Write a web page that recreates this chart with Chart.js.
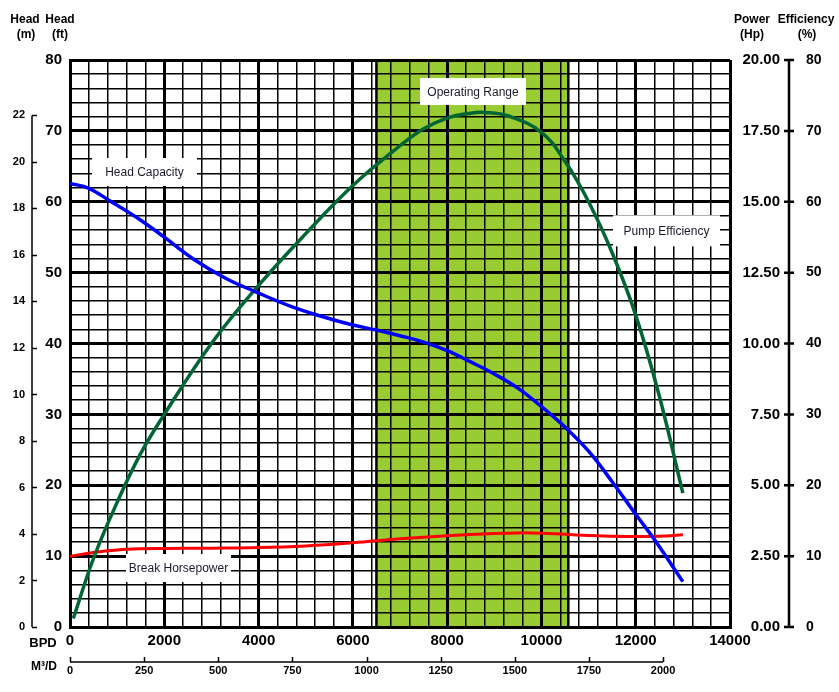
<!DOCTYPE html>
<html>
<head>
<meta charset="utf-8">
<script src="https://cdn.jsdelivr.net/npm/chart.js@4.4.1/dist/chart.umd.min.js"></script>
<style>
html,body{margin:0;padding:0;background:#fff;}
#wrap{width:839px;height:692px;position:relative;}
</style>
</head>
<body>
<div id="wrap"><canvas id="c" width="839" height="692"></canvas></div>
<script>
// ---- Data ----
// Head capacity curve: flow (BPD) vs head (ft)
const headBpd = [0, 400, 850, 1500, 2000, 2600, 3300, 3900, 4700, 5400, 6000, 6500, 7000, 7500, 8000, 8500, 9000, 9500, 10000, 10500, 11000, 11500, 12000, 12400, 13000];
const headFt  = [62.6, 61.9, 60.1, 57.4, 55.0, 52.0, 49.2, 47.4, 45.2, 43.7, 42.6, 41.9, 41.1, 40.2, 39.0, 37.4, 35.7, 33.7, 31.1, 28.2, 24.8, 20.5, 15.9, 12.3, 6.4];

// Pump efficiency curve: flow (BPD) vs efficiency (%)
const effBpd = [70, 500, 1000, 1500, 2000, 3000, 4000, 5000, 6000, 7000, 7500, 8000, 8500, 8800, 9300, 10000, 10500, 11000, 11500, 12000, 12500, 13000];
const effPct = [1.2, 9.7, 17.6, 24.5, 30.0, 40.0, 48.2, 55.5, 62.3, 67.9, 70.3, 71.8, 72.5, 72.6, 72.1, 69.8, 65.7, 60.0, 52.8, 44.0, 32.6, 18.9];

// Brake horsepower curve: flow (BPD) vs power (Hp)
const hpBpd = [0, 500, 1000, 1500, 2000, 3000, 4000, 5000, 6000, 7000, 8000, 9000, 9500, 10000, 10500, 11000, 11500, 12000, 12500, 13000];
const hpVal = [2.49, 2.63, 2.72, 2.76, 2.77, 2.78, 2.80, 2.86, 2.97, 3.11, 3.22, 3.30, 3.32, 3.31, 3.27, 3.23, 3.20, 3.19, 3.20, 3.25];

// Operating range (BPD)
const operatingRange = [6500, 10570];

// Axis ranges / tick labels
const bpdMax = 14000;
const ftMax = 80;
const hpMax = 20;
const effMax = 80;
const FT_PER_M = 3.28084;
const BBL_PER_M3 = 6.28981;
const meterTicks = [0, 2, 4, 6, 8, 10, 12, 14, 16, 18, 20, 22];
const m3dTicks = [0, 250, 500, 750, 1000, 1250, 1500, 1750, 2000];

// Curve annotations: text, BPD, ft, box width, box height
const curveLabels = [
  {text: 'Head Capacity',    bpd: 1580,  ft: 64.2, w: 105, h: 28},
  {text: 'Operating Range',  bpd: 8549,  ft: 75.55, w: 106, h: 27},
  {text: 'Pump Efficiency',  bpd: 12653, ft: 55.9, w: 107, h: 31},
  {text: 'Break Horsepower', bpd: 2302,  ft: 8.32, w: 105, h: 28}
];

Chart.defaults.font.family = "'Liberation Sans', Arial, sans-serif";
Chart.defaults.color = '#000';

const FONT = "'Liberation Sans', Arial, sans-serif";

const decor = {
  id: 'decor',
  beforeDraw(chart) {
    const {ctx, chartArea: a, scales: {x}} = chart;
    ctx.save();
    ctx.fillStyle = '#fff';
    ctx.fillRect(0, 0, chart.width, chart.height);
    const x0 = x.getPixelForValue(operatingRange[0]);
    const x1 = x.getPixelForValue(operatingRange[1]);
    ctx.fillStyle = '#99CC33';
    ctx.fillRect(x0, a.top, x1 - x0, a.bottom - a.top);
    ctx.strokeStyle = '#000';
    ctx.lineWidth = 2.5;
    ctx.beginPath();
    ctx.moveTo(x0, a.top); ctx.lineTo(x0, a.bottom);
    ctx.moveTo(x1, a.top); ctx.lineTo(x1, a.bottom);
    ctx.stroke();
    ctx.restore();
  },
  beforeDatasetsDraw(chart) {
    const {ctx, scales: {x, y}} = chart;
    ctx.save();
    ctx.font = '12px ' + FONT;
    ctx.textAlign = 'center';
    ctx.textBaseline = 'middle';
    curveLabels.forEach(l => {
      const cx = x.getPixelForValue(l.bpd);
      const cy = y.getPixelForValue(l.ft);
      ctx.fillStyle = '#fff';
      ctx.fillRect(cx - l.w / 2, cy - l.h / 2, l.w, l.h);
      ctx.fillStyle = '#1a1a2e';
      ctx.fillText(l.text, cx, cy + 1);
    });
    ctx.restore();
  },
  afterDraw(chart) {
    const {ctx, scales: {ym, ye, xm}} = chart;
    ctx.save();
    ctx.strokeStyle = '#000';
    // metre axis line with ticks
    const mx = ym.right - 5;
    ctx.lineWidth = 1.5;
    ctx.beginPath();
    ctx.moveTo(mx, ym.getPixelForValue(0));
    ctx.lineTo(mx, ym.getPixelForValue(meterTicks[meterTicks.length - 1]));
    meterTicks.forEach(v => {
      const py = Math.round(ym.getPixelForValue(v)) + 0.5;
      ctx.moveTo(mx, py); ctx.lineTo(mx + 5, py);
    });
    ctx.stroke();
    // right axis line (power / efficiency)
    const rx = ye.left + 9;
    ctx.lineWidth = 2.5;
    ctx.beginPath();
    ctx.moveTo(rx, ye.getPixelForValue(0));
    ctx.lineTo(rx, ye.getPixelForValue(effMax));
    for (let v = 0; v <= effMax; v += 10) {
      const py = ye.getPixelForValue(v);
      ctx.moveTo(rx - 5, py); ctx.lineTo(rx + 5, py);
    }
    ctx.stroke();
    // m3/d axis line with ticks
    const by = xm.top + 10;
    ctx.lineWidth = 1.5;
    ctx.beginPath();
    ctx.moveTo(xm.getPixelForValue(m3dTicks[0]), by);
    ctx.lineTo(xm.getPixelForValue(m3dTicks[m3dTicks.length - 1]), by);
    m3dTicks.forEach(v => {
      const px = Math.round(xm.getPixelForValue(v)) + 0.5;
      ctx.moveTo(px, by); ctx.lineTo(px, by - 5);
    });
    ctx.stroke();
    // headers
    ctx.fillStyle = '#000';
    ctx.font = 'bold 12px ' + FONT;
    ctx.textAlign = 'center';
    ctx.textBaseline = 'alphabetic';
    const hdr = [['Head', 25, 23], ['(m)', 26, 38], ['Head', 60, 23], ['(ft)', 60, 38],
                 ['Power', 752, 23], ['(Hp)', 752, 38], ['Efficiency', 806, 23], ['(%)', 807, 38]];
    hdr.forEach(h => ctx.fillText(h[0], h[1], h[2]));
    ctx.font = 'bold 13px ' + FONT;
    ctx.fillText('BPD', 43, 647);
    ctx.font = 'bold 12px ' + FONT;
    ctx.fillText('M³/D', 44, 670);
    ctx.restore();
  }
};

const majorMinor = (step) => (c) => (c.tick && Math.abs(c.tick.value % step) < 1e-6) ? 3 : 1.5;

new Chart(document.getElementById('c'), {
  type: 'line',
  data: {
    datasets: [
      {
        label: 'Head Capacity',
        data: headBpd.map((b, i) => ({x: b, y: headFt[i]})),
        borderColor: '#0000FF', borderWidth: 3.5, pointRadius: 0, tension: 0.4,
        yAxisID: 'y', xAxisID: 'x'
      },
      {
        label: 'Pump Efficiency',
        data: effBpd.map((b, i) => ({x: b, y: effPct[i]})),
        borderColor: '#006633', borderWidth: 3.5, pointRadius: 0, tension: 0.4,
        yAxisID: 'ye', xAxisID: 'x'
      },
      {
        label: 'Break Horsepower',
        data: hpBpd.map((b, i) => ({x: b, y: hpVal[i]})),
        borderColor: '#FF0000', borderWidth: 3, pointRadius: 0, tension: 0.4,
        yAxisID: 'yp', xAxisID: 'x'
      }
    ]
  },
  options: {
    responsive: false,
    animation: false,
    devicePixelRatio: 1,
    layout: {padding: {top: 60, left: 0, right: 0, bottom: 0}},
    plugins: {legend: {display: false}, tooltip: {enabled: false}},
    scales: {
      x: {
        type: 'linear', position: 'bottom', weight: 0, min: 0, max: bpdMax,
        ticks: {stepSize: 400, autoSkip: false, maxRotation: 0, padding: 5,
                font: {size: 15, weight: 'bold'}, color: '#000',
                callback: v => (v % 2000 === 0 ? String(v) : '')},
        grid: {color: '#000', lineWidth: majorMinor(2000), drawTicks: false},
        border: {display: true, color: '#000', width: 3},
        afterFit: s => { s.height = 25; }
      },
      xm: {
        type: 'linear', position: 'bottom', weight: 1, min: 0, max: bpdMax / BBL_PER_M3,
        afterBuildTicks: s => { s.ticks = m3dTicks.map(v => ({value: v})); },
        ticks: {autoSkip: false, maxRotation: 0, padding: 12,
                font: {size: 11, weight: 'bold'}, color: '#000',
                callback: v => String(v)},
        grid: {display: false, drawTicks: false},
        border: {display: false},
        afterFit: s => { s.height = 40; }
      },
      y: {
        type: 'linear', position: 'left', weight: 0, min: 0, max: ftMax,
        ticks: {stepSize: 2, autoSkip: false, padding: 8,
                font: {size: 15, weight: 'bold'}, color: '#000',
                callback: v => (v % 10 === 0 ? String(v) : '')},
        grid: {color: '#000', lineWidth: majorMinor(10), drawTicks: false},
        border: {display: true, color: '#000', width: 3},
        afterFit: s => { s.width = 33; }
      },
      ym: {
        type: 'linear', position: 'left', weight: 1, min: 0, max: ftMax / FT_PER_M,
        afterBuildTicks: s => { s.ticks = meterTicks.map(v => ({value: v})); },
        ticks: {autoSkip: false, padding: 12,
                font: {size: 11, weight: 'bold'}, color: '#000',
                callback: v => String(v)},
        grid: {display: false, drawTicks: false},
        border: {display: false},
        afterFit: s => { s.width = 37; }
      },
      yp: {
        type: 'linear', position: 'right', weight: 0, min: 0, max: hpMax,
        ticks: {stepSize: 2.5, autoSkip: false, padding: 0, crossAlign: 'far',
                font: {size: 15, weight: 'bold'}, color: '#000',
                callback: v => Number(v).toFixed(2)},
        grid: {display: false, drawTicks: false},
        border: {display: false},
        afterFit: s => { s.width = 50; }
      },
      ye: {
        type: 'linear', position: 'right', weight: 1, min: 0, max: effMax,
        ticks: {stepSize: 10, autoSkip: false, padding: 26,
                font: {size: 14, weight: 'bold'}, color: '#000',
                callback: v => String(v)},
        grid: {display: false, drawTicks: false},
        border: {display: false},
        afterFit: s => { s.width = 59; }
      }
    }
  },
  plugins: [decor]
});
</script>
</body>
</html>
